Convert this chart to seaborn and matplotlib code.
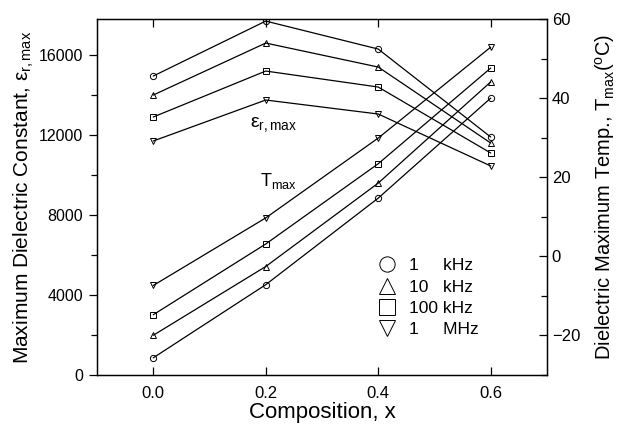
import numpy as np
import pandas as pd
import matplotlib
matplotlib.use("Agg")
import matplotlib.pyplot as plt
from matplotlib.lines import Line2D
from matplotlib.ticker import MultipleLocator
import seaborn as sns

# Data
composition = [0.0, 0.2, 0.4, 0.6]
freqs = ["1 kHz", "10 kHz", "100 kHz", "1 MHz"]
eps_1k = [14950, 17700, 16300, 11900]
eps_10k = [14000, 16600, 15400, 11600]
eps_100k = [12900, 15200, 14400, 11100]
eps_1M = [11700, 13750, 13050, 10450]
tmax_1k = [-25.7, -7.2, 14.7, 40.0]
tmax_10k = [-20.0, -2.6, 18.5, 44.1]
tmax_100k = [-14.8, 3.1, 23.4, 47.6]
tmax_1M = [-7.4, 9.7, 29.9, 52.9]
legend_labels = ["1     kHz", "10   kHz", "100 kHz", "1     MHz"]

marker_map = {"1 kHz": "o", "10 kHz": "^", "100 kHz": "s", "1 MHz": "v"}

eps_df = pd.DataFrame({
    "x": composition * 4,
    "val": eps_1k + eps_10k + eps_100k + eps_1M,
    "freq": np.repeat(freqs, len(composition)),
})
t_df = pd.DataFrame({
    "x": composition * 4,
    "val": tmax_1k + tmax_10k + tmax_100k + tmax_1M,
    "freq": np.repeat(freqs, len(composition)),
})

sns.set_style("ticks")
plt.rcParams["font.family"] = ["Liberation Sans", "DejaVu Sans"]
plt.rcParams["mathtext.fontset"] = "custom"
plt.rcParams["mathtext.rm"] = "Liberation Sans"
plt.rcParams["mathtext.it"] = "Liberation Sans"
for k in ["text.color", "axes.labelcolor", "xtick.color", "ytick.color", "axes.edgecolor"]:
    plt.rcParams[k] = "black"

fig, ax = plt.subplots(figsize=(6.18, 4.24), dpi=100)
fig.subplots_adjust(left=0.157, right=0.885, top=0.955, bottom=0.116)

line_kw = dict(color="black", lw=0.9, markersize=4.5, markerfacecolor="none",
               markeredgecolor="black", markeredgewidth=0.7, dashes=False,
               legend=False)
sns.lineplot(data=eps_df, x="x", y="val", style="freq", markers=marker_map,
             style_order=freqs, ax=ax, **line_kw)

ax2 = ax.twinx()
sns.lineplot(data=t_df, x="x", y="val", style="freq", markers=marker_map,
             style_order=freqs, ax=ax2, **line_kw)

ax.set_xlim(-0.1, 0.7)
ax.set_ylim(0, 17800)
ax2.set_ylim(-30, 60)

ax.set_xticks([0.0, 0.2, 0.4, 0.6])
ax.set_xticklabels(["0.0", "0.2", "0.4", "0.6"])
ax.set_yticks([0, 4000, 8000, 12000, 16000])
ax.yaxis.set_minor_locator(MultipleLocator(2000))
ax2.set_yticks([-20, 0, 20, 40, 60])
ax2.yaxis.set_minor_locator(MultipleLocator(10))

ax.tick_params(axis="x", direction="in", top=True, length=6, width=0.9, labelsize=12, pad=8)
ax.tick_params(axis="y", which="major", direction="out", length=6, width=0.9, labelsize=11.5, pad=4)
ax.tick_params(axis="y", which="minor", direction="out", length=4, width=0.9)
ax2.tick_params(axis="y", which="major", direction="in", length=6, width=0.9, labelsize=12)
ax2.tick_params(axis="y", which="minor", direction="in", length=4, width=0.9)

for a in (ax, ax2):
    for s in a.spines.values():
        s.set_visible(True)
        s.set_linewidth(0.9)
        s.set_color("black")

ax.set_xlabel("Composition, x", fontsize=16, labelpad=1)
ax.set_ylabel(r"Maximum Dielectric Constant, $\varepsilon_{r,max}$", fontsize=15)
ax.yaxis.set_label_coords(-0.135, 0.5)
ax2.set_ylabel(r"Dielectric Maximum Temp., T$_{max}$($^{o}$C)", fontsize=14.5, labelpad=9)

ax.text(0.213, 12500, r"$\varepsilon_{r,max}$", fontsize=14, ha="center", va="center")
ax.text(0.222, 9700, r"T$_{max}$", fontsize=13, ha="center", va="center")

handles = [Line2D([], [], ls="none", marker=marker_map[f], markersize=11,
                  markerfacecolor="none", markeredgecolor="black", markeredgewidth=0.7)
           for f in freqs]
ax.legend(handles, legend_labels, loc="lower left", bbox_to_anchor=(0.59, 0.062),
          frameon=False, fontsize=12.5, handlelength=1.0, handletextpad=0.8,
          labelspacing=0.35)

fig.savefig("out.png", dpi=100)
